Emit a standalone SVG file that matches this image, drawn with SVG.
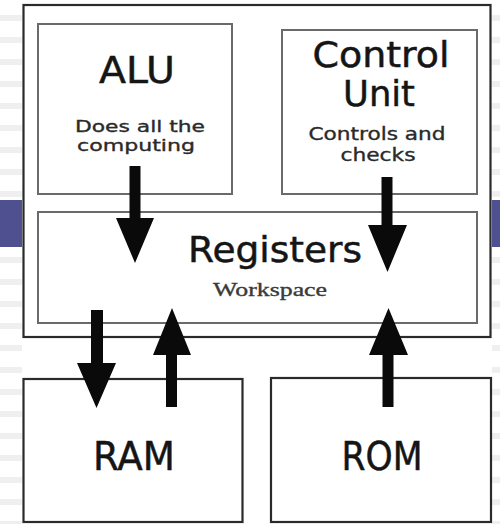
<svg xmlns="http://www.w3.org/2000/svg" width="500" height="524" viewBox="0 0 500 524">
<defs>
<pattern id="stripes" x="0" y="15" width="10" height="22" patternUnits="userSpaceOnUse">
<rect x="0" y="0" width="10" height="6" fill="#efefef"/>
</pattern>
</defs>
<style>
.outer{fill:#fff;stroke:#2a2a2a;stroke-width:2.2}
.inner{fill:#fff;stroke:#6a6a6a;stroke-width:2}
.mem{fill:#fff;stroke:#2a2a2a;stroke-width:2.2}
.big{font-family:"DejaVu Sans",Verdana,sans-serif;fill:#151515;stroke:#151515;stroke-width:0.5;text-anchor:middle}
.small{font-family:"DejaVu Sans",Verdana,sans-serif;fill:#2a2a2a;stroke:#2a2a2a;stroke-width:0.35;text-anchor:middle}
.serif{font-family:"Liberation Serif","DejaVu Serif",serif;fill:#3a3a3a;stroke:#3a3a3a;stroke-width:0.35;text-anchor:middle}
.arrow{fill:#0a0a0a}
</style>
<rect x="0" y="0" width="500" height="524" fill="#fff"/>
<rect x="0" y="0" width="22" height="524" fill="url(#stripes)"/>
<rect x="492" y="0" width="8" height="524" fill="url(#stripes)"/>
<rect x="0" y="200" width="22" height="47" fill="#4f5090"/>
<rect x="492" y="200" width="8" height="47" fill="#4f5090"/>
<g id="cpu">
<rect class="outer" x="23.5" y="5" width="467" height="332"/>
</g>
<g id="alu">
<rect class="inner" x="38" y="24" width="194" height="170"/>
<text class="big" x="137" y="83" font-size="37" textLength="76" lengthAdjust="spacingAndGlyphs">ALU</text>
<text class="small" x="140" y="132" font-size="16" textLength="130" lengthAdjust="spacingAndGlyphs">Does all the</text>
<text class="small" x="136" y="151" font-size="16" textLength="118" lengthAdjust="spacingAndGlyphs">computing</text>
</g>
<g id="control-unit">
<rect class="inner" x="282" y="30" width="195" height="164"/>
<text class="big" x="381" y="67" font-size="36" textLength="137" lengthAdjust="spacingAndGlyphs">Control</text>
<text class="big" x="379" y="106" font-size="36" textLength="72" lengthAdjust="spacingAndGlyphs">Unit</text>
<text class="small" x="377" y="140" font-size="17" textLength="137" lengthAdjust="spacingAndGlyphs">Controls and</text>
<text class="small" x="378" y="161" font-size="17" textLength="75" lengthAdjust="spacingAndGlyphs">checks</text>
</g>
<g id="registers">
<rect class="inner" x="38" y="212" width="439" height="111"/>
<text class="big" x="275" y="262" font-size="36" textLength="174" lengthAdjust="spacingAndGlyphs">Registers</text>
<text class="serif" x="270" y="296" font-size="18" textLength="114" lengthAdjust="spacingAndGlyphs">Workspace</text>
</g>
<g id="ram">
<rect class="mem" x="23.5" y="379" width="219" height="143"/>
<text class="big" x="134" y="470" font-size="39" textLength="82" lengthAdjust="spacingAndGlyphs">RAM</text>
</g>
<g id="rom">
<rect class="mem" x="271" y="378" width="220" height="144"/>
<text class="big" x="382" y="470" font-size="39" textLength="81" lengthAdjust="spacingAndGlyphs">ROM</text>
</g>
<g id="connectors">
<polygon class="arrow" points="129.5,166 140.5,166 140.5,218 154,218 135,263 116,218 129.5,218"/>
<polygon class="arrow" points="381.5,177 392.5,177 392.5,225 407,225 387.5,272 368,225 381.5,225"/>
<polygon class="arrow" points="91,310 103,310 103,363 116,363 96.5,408 77,363 91,363"/>
<polygon class="arrow" points="166,407 177,407 177,355 191,355 172,308 153,355 166,355"/>
<polygon class="arrow" points="382.5,407 393.5,407 393.5,355 408,355 388.5,308 369,355 382.5,355"/>
</g>
</svg>
